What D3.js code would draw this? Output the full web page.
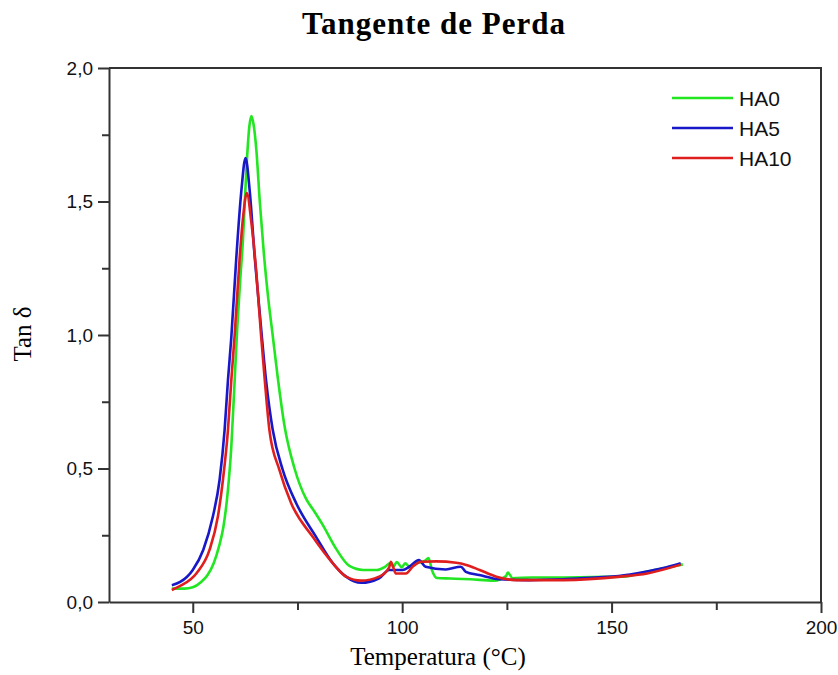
<!DOCTYPE html>
<html>
<head>
<meta charset="utf-8">
<script src="https://cdn.jsdelivr.net/npm/d3@7"></script>
<style>
  body { margin: 0; background: #fff; }
  svg { display: block; }
</style>
</head>
<body>
<div id="chart"></div>
<script>
// series names and colours
const seriesNames = ["HA0", "HA5", "HA10"];
const seriesColors = ["#22e622", "#1818c8", "#e01e1e"];

// HA0 (green)
const ha0Temp = [45, 48, 50, 52, 53.5, 55, 56.3, 57.3, 58.4, 59.2, 60, 60.6, 61.3, 62, 62.8, 63.5, 64, 64.5, 65.2, 66, 67, 68, 69, 70.3, 71.9, 74.3, 77.1, 79, 81, 84.2, 87.4, 90.7, 93.9, 95.9, 97.1, 97.9, 98.7, 99.9, 100.7, 101.9, 103.5, 105.5, 106.3, 107.1, 108.3, 111.5, 116.3, 121.9, 124.8, 125.2, 126.4, 130.9, 138.9, 152.5, 158.9, 167];
const ha0Tan = [0.05, 0.05, 0.055, 0.075, 0.1, 0.145, 0.21, 0.28, 0.42, 0.58, 0.83, 1.02, 1.2, 1.36, 1.62, 1.78, 1.82, 1.79, 1.69, 1.5, 1.3, 1.14, 1.01, 0.84, 0.66, 0.5, 0.385, 0.34, 0.29, 0.2, 0.135, 0.12, 0.12, 0.132, 0.145, 0.132, 0.15, 0.13, 0.145, 0.13, 0.145, 0.155, 0.165, 0.12, 0.09, 0.088, 0.085, 0.08, 0.097, 0.11, 0.089, 0.092, 0.092, 0.095, 0.115, 0.141];

// HA5 (blue)
const ha5Temp = [45, 47, 50, 52.5, 54.8, 56.4, 57.6, 58.4, 59.2, 60.4, 61.6, 62.6, 63.6, 64.8, 66, 67.5, 69.1, 71.5, 74.7, 79.4, 83.4, 86.6, 90.2, 94.5, 96.9, 100.1, 101.7, 104, 105.6, 110.4, 114, 115.2, 118.4, 123.1, 130.2, 138.2, 146.1, 151.7, 158.1, 162.1, 166.5];
const ha5Tan = [0.063, 0.075, 0.12, 0.195, 0.32, 0.457, 0.644, 0.83, 0.99, 1.29, 1.54, 1.663, 1.54, 1.29, 1.08, 0.83, 0.644, 0.494, 0.37, 0.245, 0.146, 0.095, 0.072, 0.089, 0.12, 0.12, 0.132, 0.157, 0.132, 0.122, 0.132, 0.113, 0.101, 0.085, 0.082, 0.085, 0.092, 0.097, 0.113, 0.126, 0.145];

// HA10 (red)
const ha10Temp = [45, 47, 50.9, 54, 56, 57.2, 58.4, 59.2, 60, 61.2, 62, 62.9, 64, 65.2, 66.3, 67.2, 68.3, 70.7, 73.5, 78.6, 83.4, 86.6, 90.2, 94.5, 96.9, 97.3, 98.5, 100.9, 102.5, 104.5, 108.1, 112.9, 115.3, 118.5, 122.5, 127.3, 138.5, 152.1, 158.5, 166.5];
const ha10Tan = [0.045, 0.06, 0.108, 0.195, 0.32, 0.457, 0.644, 0.83, 1.0, 1.29, 1.44, 1.532, 1.42, 1.23, 1.0, 0.83, 0.644, 0.494, 0.37, 0.245, 0.146, 0.095, 0.08, 0.095, 0.13, 0.151, 0.107, 0.107, 0.132, 0.151, 0.152, 0.147, 0.139, 0.12, 0.095, 0.082, 0.082, 0.095, 0.107, 0.14];

// tick values
const xTicks = [50, 100, 150, 200];
const xMinorTicks = [75, 125, 175];
const yTicks = [0, 0.5, 1.0, 1.5, 2.0];
const yMinorTicks = [0.25, 0.75, 1.25, 1.75];

const width = 838;
const height = 675;
const margin = { top: 68, right: 17, bottom: 73, left: 109 };

const svg = d3.select("#chart")
  .append("svg")
  .attr("width", width)
  .attr("height", height);

const x = d3.scaleLinear()
  .domain([30, 200])
  .range([margin.left, width - margin.right]);

const y = d3.scaleLinear()
  .domain([0, 2])
  .range([height - margin.bottom, margin.top]);

const fmt = (d) => d3.format(".1f")(d).replace(".", ",");
const axisColor = "#333";

// frame: top and right lines
svg.append("path")
  .attr("d", `M${x(30)},${y(2)}H${x(200)}V${y(0)}`)
  .attr("fill", "none")
  .attr("stroke", axisColor)
  .attr("stroke-width", 2);

// bottom axis
svg.append("g")
  .attr("transform", `translate(0,${y(0)})`)
  .call(d3.axisBottom(x).tickValues(xTicks).tickSize(11).tickPadding(8).tickSizeOuter(0));

svg.append("g")
  .attr("transform", `translate(0,${y(0)})`)
  .call(d3.axisBottom(x).tickValues(xMinorTicks).tickSize(8).tickFormat("").tickSizeOuter(0))
  .call((g) => g.select(".domain").remove());

// left axis
svg.append("g")
  .attr("transform", `translate(${x(30)},0)`)
  .call(d3.axisLeft(y).tickValues(yTicks).tickSize(11).tickPadding(5).tickFormat(fmt).tickSizeOuter(0));

svg.append("g")
  .attr("transform", `translate(${x(30)},0)`)
  .call(d3.axisLeft(y).tickValues(yMinorTicks).tickSize(7).tickFormat("").tickSizeOuter(0))
  .call((g) => g.select(".domain").remove());

svg.selectAll(".domain, .tick line")
  .attr("stroke", axisColor)
  .attr("stroke-width", 2);

svg.selectAll(".tick text")
  .attr("fill", "#111")
  .style("font-family", "'Liberation Sans', Arial, sans-serif")
  .style("font-size", "19px");

// curves
const seriesData = [
  ha0Temp.map((t, i) => ({ t, v: ha0Tan[i] })),
  ha5Temp.map((t, i) => ({ t, v: ha5Tan[i] })),
  ha10Temp.map((t, i) => ({ t, v: ha10Tan[i] })),
];

const line = d3.line()
  .x((d) => x(d.t))
  .y((d) => y(d.v))
  .curve(d3.curveMonotoneX);

seriesData.forEach((data, i) => {
  svg.append("path")
    .datum(data)
    .attr("fill", "none")
    .attr("stroke", seriesColors[i])
    .attr("stroke-width", 2.6)
    .attr("stroke-linejoin", "round")
    .attr("d", line);
});

// legend
const legend = svg.selectAll(".legend")
  .data(seriesNames)
  .enter()
  .append("g")
  .attr("class", "legend")
  .attr("transform", (d, i) => `translate(672, ${98 + i * 30})`);

legend.append("line")
  .attr("x1", 0)
  .attr("x2", 61)
  .attr("stroke", (d, i) => seriesColors[i])
  .attr("stroke-width", 2.6);

legend.append("text")
  .attr("x", 67)
  .attr("dy", "0.36em")
  .style("font-family", "'Liberation Sans', Arial, sans-serif")
  .style("font-size", "21px")
  .attr("fill", "#111")
  .text((d) => d);

// title and axis labels
svg.append("text")
  .attr("x", 434)
  .attr("y", 34)
  .attr("text-anchor", "middle")
  .style("font-family", "'Liberation Serif', 'Times New Roman', serif")
  .style("font-weight", "bold")
  .style("font-size", "31px")
  .style("letter-spacing", "1px")
  .text("Tangente de Perda");

svg.append("text")
  .attr("x", 438)
  .attr("y", 665)
  .attr("text-anchor", "middle")
  .style("font-family", "'Liberation Serif', 'Times New Roman', serif")
  .style("font-size", "25px")
  .text("Temperatura (°C)");

svg.append("text")
  .attr("transform", "translate(31, 334) rotate(-90)")
  .attr("text-anchor", "middle")
  .style("font-family", "'Liberation Serif', 'Times New Roman', serif")
  .style("font-size", "25px")
  .text("Tan δ");
</script>
</body>
</html>
